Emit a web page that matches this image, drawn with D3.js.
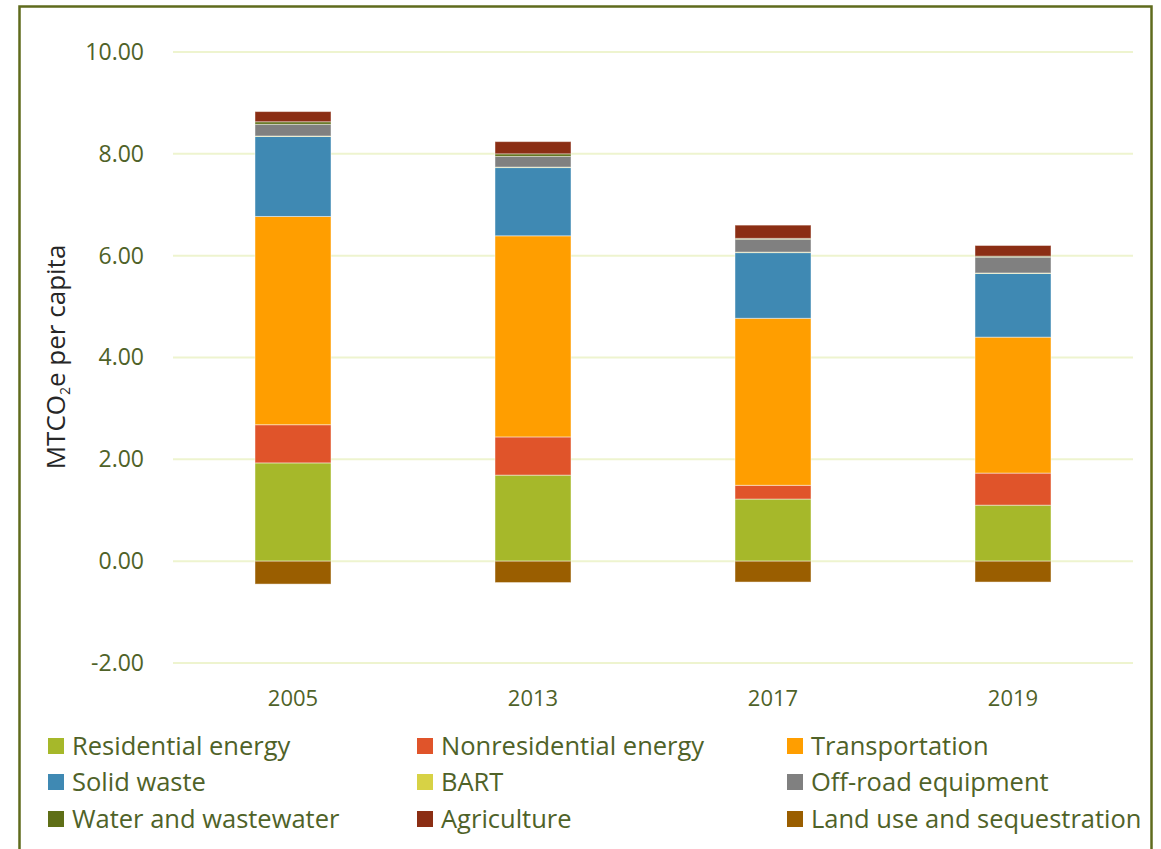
<!DOCTYPE html>
<html>
<head>
<meta charset="utf-8">
<script src="https://cdn.jsdelivr.net/npm/d3@7"></script>
<style>
  body { margin: 0; background: #fff; }
  text { font-family: "Open Sans", Lato, sans-serif; }
</style>
</head>
<body>
<script>
// per-capita emissions by sector
const years = ["2005", "2013", "2017", "2019"]
const residential    = [1.93, 1.69, 1.22, 1.10]
const nonresidential = [0.75, 0.75, 0.27, 0.63]
const transportation = [4.09, 3.95, 3.28, 2.67]
const solidWaste     = [1.57, 1.34, 1.29, 1.25]
const bart           = [0.01, 0.01, 0.01, 0.01]
const offRoad        = [0.23, 0.21, 0.25, 0.31]
const water          = [0.05, 0.05, 0.02, 0.02]
const agriculture    = [0.20, 0.24, 0.26, 0.21]
const landUse        = [-0.45, -0.42, -0.41, -0.41]
const yTicks = [-2, 0, 2, 4, 6, 8, 10]

const series = [
    {key: "Residential energy", values: residential, color: "#a6b82a"},
    {key: "Nonresidential energy", values: nonresidential, color: "#e0542a"},
    {key: "Transportation", values: transportation, color: "#ff9e00"},
    {key: "Solid waste", values: solidWaste, color: "#3f89b3"},
    {key: "BART", values: bart, color: "#d7d245"},
    {key: "Off-road equipment", values: offRoad, color: "#808080"},
    {key: "Water and wastewater", values: water, color: "#5f6f17"},
    {key: "Agriculture", values: agriculture, color: "#8b2e14"},
    {key: "Land use and sequestration", values: landUse, color: "#9a5e00"},
]

// table for d3.stack
const table = years.map((y, i) => {
    const row = {year: y}
    series.forEach(s => row[s.key] = s.values[i])
    return row
})

const W = 1161, H = 849
const olive = "#4f6228"

const svg = d3.select("body").append("svg")
    .attr("width", W)
    .attr("height", H)

// outer frame
svg.append("rect")
    .attr("x", 19.5).attr("y", 6.5)
    .attr("width", 1132).attr("height", 860)
    .attr("fill", "none")
    .attr("stroke", "#5f6b1d")
    .attr("stroke-width", 2.5)

const x = d3.scaleBand().domain(years).range([173, 1133])
const y = d3.scaleLinear().domain([-2, 10]).range([663, 52])
const barW = 76

// gridlines
svg.append("g").selectAll("line")
    .data(yTicks)
    .join("line")
    .attr("x1", 173).attr("x2", 1133)
    .attr("y1", d => y(d)).attr("y2", d => y(d))
    .attr("stroke", "#eef4cf")
    .attr("stroke-width", 2)

// y axis labels (plain hyphen for the minus, like the original)
const fmt = d3.format(".2f")
const yAxis = svg.append("g")
    .attr("transform", "translate(173,0)")
    .call(d3.axisLeft(y).tickValues(yTicks).tickFormat(d => fmt(d).replace("\u2212", "-")).tickSize(0).tickPadding(29))
yAxis.select(".domain").remove()
yAxis.selectAll("text")
    .attr("fill", olive)
    .style("font-size", "23px")
    .style("font-family", "'Open Sans', sans-serif")

// x axis labels
const xAxis = svg.append("g")
    .attr("transform", "translate(0,663)")
    .call(d3.axisBottom(x).tickSize(0).tickPadding(27))
xAxis.select(".domain").remove()
xAxis.selectAll("text")
    .attr("fill", olive)
    .style("font-size", "22px")
    .style("font-family", "'Open Sans', sans-serif")

// stacked bars
const stack = d3.stack()
    .keys(series.map(s => s.key))
    .offset(d3.stackOffsetDiverging)
const layers = stack(table)

svg.append("g").selectAll("g")
    .data(layers)
    .join("g")
    .attr("fill", (d, i) => series[i].color)
    .selectAll("rect")
    .data(d => d)
    .join("rect")
    .attr("x", d => x(d.data.year) + x.bandwidth() / 2 - barW / 2)
    .attr("width", barW)
    .attr("y", d => y(Math.max(d[0], d[1])))
    .attr("height", d => Math.abs(y(d[0]) - y(d[1])))
    .attr("stroke", "rgba(255,255,255,0.45)")
    .attr("stroke-width", 1)

// y title
svg.append("text")
    .attr("transform", "translate(65,357) rotate(-90)")
    .attr("text-anchor", "middle")
    .attr("fill", "#262626")
    .style("font-size", "26px")
    .html('MTCO<tspan font-size="14px" dy="5">2</tspan><tspan dy="-5">e per capita</tspan>')

// legend
const legCols = [48, 417, 787]
const legRows = [746, 782, 819]
const legend = svg.append("g").selectAll("g")
    .data(series)
    .join("g")
    .attr("transform", (d, i) => `translate(${legCols[i % 3]},${legRows[Math.floor(i / 3)]})`)
legend.append("rect")
    .attr("x", 0).attr("y", -8)
    .attr("width", 16).attr("height", 16)
    .attr("fill", d => d.color)
legend.append("text")
    .attr("x", 24).attr("dy", "0.35em")
    .attr("fill", olive)
    .style("font-size", "25.5px")
    .text(d => d.key)
</script>
</body>
</html>
